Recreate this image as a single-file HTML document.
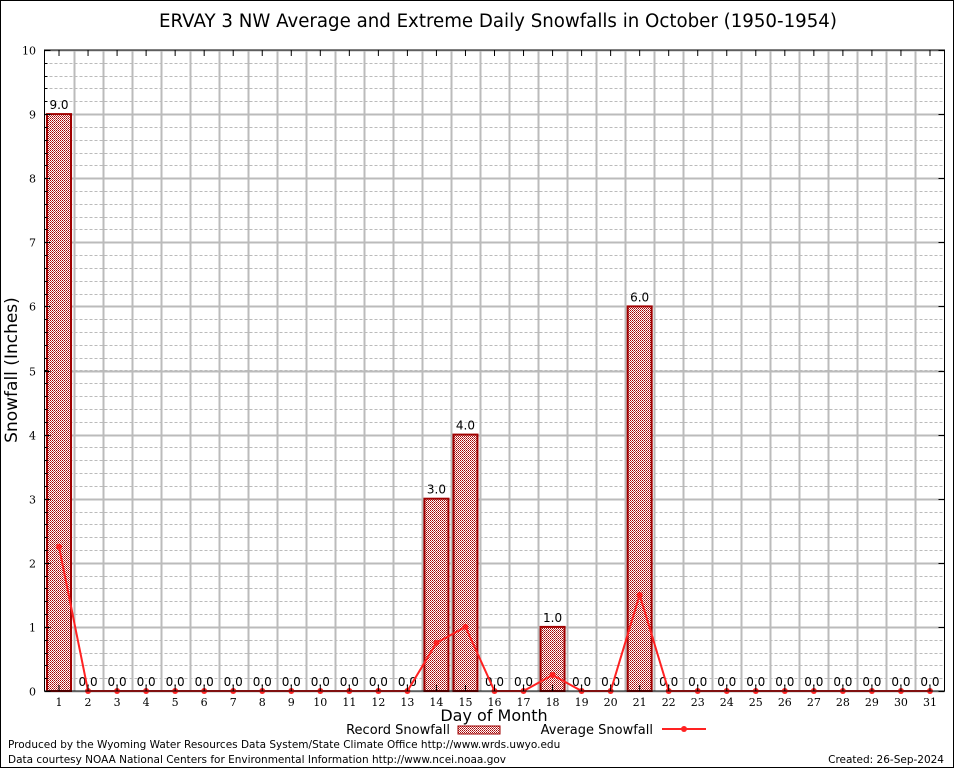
<!DOCTYPE html>
<html><head><meta charset="utf-8"><style>
html,body{margin:0;padding:0;background:#fff}
svg{display:block}
text{font-family:"DejaVu Sans","Liberation Sans",sans-serif}
.tk{font-family:"DejaVu Serif","Liberation Serif",serif;font-size:11px}
</style></head><body>
<svg id="c" width="954" height="768" viewBox="0 0 954 768" xmlns="http://www.w3.org/2000/svg">
<defs>
<pattern id="hatch" width="4" height="4" patternUnits="userSpaceOnUse">
<rect width="4" height="4" fill="#fff"/>
<rect x="0" y="0" width="1" height="1" fill="#a00000"/><rect x="2" y="0" width="1" height="1" fill="#a00000"/>
<rect x="1" y="1" width="1" height="1" fill="#c04040"/><rect x="3" y="1" width="1" height="1" fill="#c04040"/>
<rect x="0" y="2" width="1" height="1" fill="#a00000"/><rect x="2" y="2" width="1" height="1" fill="#a00000"/>
<rect x="1" y="3" width="1" height="1" fill="#c04040"/><rect x="3" y="3" width="1" height="1" fill="#c04040"/>
</pattern>
</defs>
<rect x="0.5" y="0.5" width="953" height="767" fill="#fff" stroke="#000"/>
<text x="498" y="27" font-size="18.2" text-anchor="middle">ERVAY 3 NW Average and Extreme Daily Snowfalls in October (1950-1954)</text>
<g id="grid"></g>
<g id="bars"></g>
<g id="avg"></g>
<g id="axes"></g>
<text x="17" y="370" font-size="17" text-anchor="middle" transform="rotate(-90 17 370)">Snowfall (Inches)</text>
<text x="494" y="721" font-size="16" text-anchor="middle">Day of Month</text>
<g>
<text x="450" y="734" font-size="13" text-anchor="end">Record Snowfall</text>
<rect x="458" y="726" width="42" height="8" fill="url(#hatch)" stroke="#a00000"/>
<text x="653" y="734" font-size="13" text-anchor="end">Average Snowfall</text>
<line x1="662" y1="729" x2="706" y2="729" stroke="#f22" stroke-width="2"/>
<circle cx="684" cy="729" r="3" fill="#f22"/>
</g>
<text x="8" y="748" font-size="10.5">Produced by the Wyoming Water Resources Data System/State Climate Office http://www.wrds.uwyo.edu</text>
<text x="8" y="763" font-size="10.5">Data courtesy NOAA National Centers for Environmental Information http://www.ncei.noaa.gov</text>
<text x="944" y="763" font-size="10.5" text-anchor="end">Created:  26-Sep-2024</text>
</svg>
<script>
const days=[1,2,3,4,5,6,7,8,9,10,11,12,13,14,15,16,17,18,19,20,21,22,23,24,25,26,27,28,29,30,31];
const recordSnow=[9,0,0,0,0,0,0,0,0,0,0,0,0,3,4,0,0,1,0,0,6,0,0,0,0,0,0,0,0,0,0];
const avgSnow=[2.25,0,0,0,0,0,0,0,0,0,0,0,0,0.75,1,0,0,0.25,0,0,1.5,0,0,0,0,0,0,0,0,0,0];
const yTicks=[0,1,2,3,4,5,6,7,8,9,10];
const NS='http://www.w3.org/2000/svg';
const L=44.5,R=944.5,T=50,B=691;
const x=d=>L+(d-0.5)*(R-L)/31;
const y=v=>B-v*(B-T)/10;
function mk(tag,attrs,parent){const e=document.createElementNS(NS,tag);for(const k in attrs)e.setAttribute(k,attrs[k]);parent.appendChild(e);return e;}
const grid=document.getElementById('grid'),bars=document.getElementById('bars'),avg=document.getElementById('avg'),axes=document.getElementById('axes');
for(let v=0;v<10;v+=0.2){const yy=Math.round(y(v))+0.5;const ln=mk('line',{x1:L,x2:R,y1:yy,y2:yy,stroke:'#bbb','stroke-dasharray':'3,2','stroke-width':1},grid);}
yTicks.forEach(v=>{const yy=Math.round(y(v))+0.5;const ln=mk('line',{x1:L,x2:R,y1:yy,y2:yy,stroke:'#bbb','stroke-width':2},grid);
const t=mk('text',{x:36,y:yy+4,'text-anchor':'end',class:'tk'},axes);t.textContent=v;
const tk=mk('line',{x1:L,x2:L+6,y1:yy,y2:yy,stroke:'#000'},axes);
const tk2=mk('line',{x1:R-6,x2:R,y1:yy,y2:yy,stroke:'#000'},axes);});
for(let v=0;v<10;v+=0.2){const yy=Math.round(y(v))+0.5;const tk=mk('line',{x1:L,x2:L+3,y1:yy,y2:yy,stroke:'#000'},axes);}
for(let i=1;i<31;i++){const xx=Math.round(L+i*(R-L)/31)+0.5;const ln=mk('line',{x1:xx,x2:xx,y1:T,y2:B,stroke:'#bbb','stroke-width':2},grid);}
days.forEach((d,i)=>{const cx=x(d),v=recordSnow[i];
if(v>0){const r=mk('rect',{x:cx-12,y:y(v),width:24,height:B-y(v),fill:'url(#hatch)',stroke:'#a00000','stroke-width':2},bars);}
const t=mk('text',{x:cx,y:y(v)-5,'font-size':12,'text-anchor':'middle'},bars);t.textContent=v.toFixed(1);
const xl=mk('text',{x:cx,y:706,'text-anchor':'middle',class:'tk'},axes);xl.textContent=d;
const tk=mk('line',{x1:cx,x2:cx,y1:B-6,y2:B,stroke:'#000'},axes);
const tk2=mk('line',{x1:cx,x2:cx,y1:T,y2:T+6,stroke:'#000'},axes);});
const pts=days.map((d,i)=>x(d)+','+y(avgSnow[i])).join(' ');
const pl=mk('polyline',{points:pts,fill:'none',stroke:'#f22','stroke-width':2},avg);
days.forEach((d,i)=>{const c=mk('circle',{cx:x(d),cy:y(avgSnow[i]),r:3,fill:'#f22'},avg);});
const fr=mk('rect',{x:L,y:T,width:R-L,height:B-T,fill:'none',stroke:'#000','stroke-width':1},axes);
</script>
</body></html>
